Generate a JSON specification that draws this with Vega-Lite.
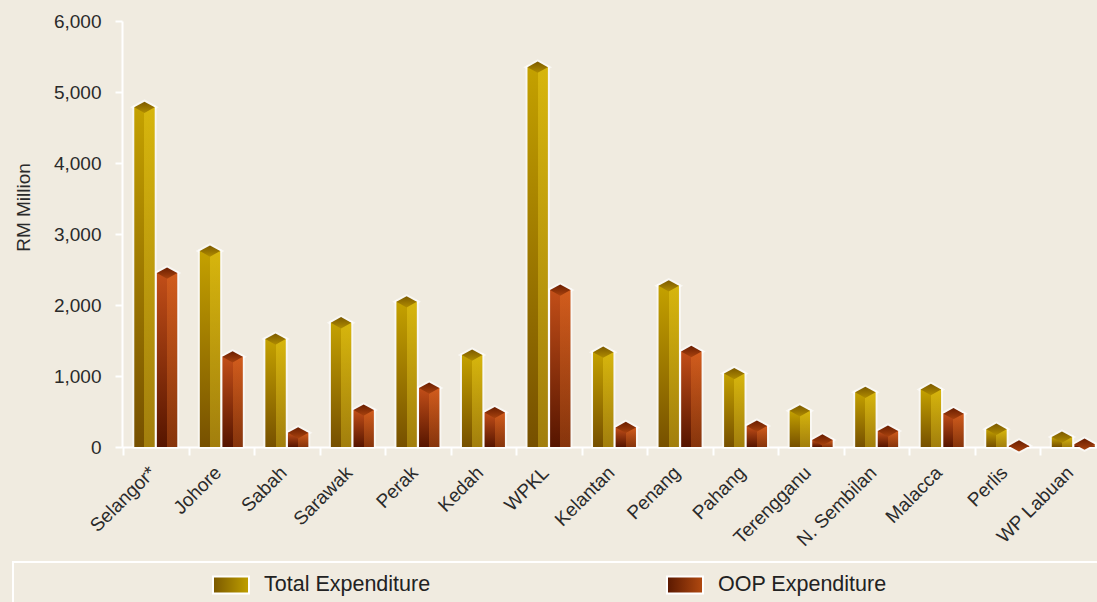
{
  "$schema": "https://vega.github.io/schema/vega-lite/v6.json",
  "background": "#f0ebe0",
  "padding": {"left": 12, "top": 12, "right": 0, "bottom": 0},
  "config": {
    "font": "Liberation Sans",
    "view": {"stroke": null}
  },
  "spacing": 11,
  "vconcat": [
    {
      "width": 1085,
      "height": 426,
      "data": {
        "values": [
          {"state": "Selangor*", "series": "Total Expenditure", "value": 4785},
          {"state": "Selangor*", "series": "OOP Expenditure", "value": 2450},
          {"state": "Johore", "series": "Total Expenditure", "value": 2760},
          {"state": "Johore", "series": "OOP Expenditure", "value": 1270},
          {"state": "Sabah", "series": "Total Expenditure", "value": 1520},
          {"state": "Sabah", "series": "OOP Expenditure", "value": 200},
          {"state": "Sarawak", "series": "Total Expenditure", "value": 1750},
          {"state": "Sarawak", "series": "OOP Expenditure", "value": 520},
          {"state": "Perak", "series": "Total Expenditure", "value": 2045},
          {"state": "Perak", "series": "OOP Expenditure", "value": 830},
          {"state": "Kedah", "series": "Total Expenditure", "value": 1295},
          {"state": "Kedah", "series": "OOP Expenditure", "value": 485},
          {"state": "WPKL", "series": "Total Expenditure", "value": 5350},
          {"state": "WPKL", "series": "OOP Expenditure", "value": 2210},
          {"state": "Kelantan", "series": "Total Expenditure", "value": 1335},
          {"state": "Kelantan", "series": "OOP Expenditure", "value": 275},
          {"state": "Penang", "series": "Total Expenditure", "value": 2270},
          {"state": "Penang", "series": "OOP Expenditure", "value": 1345},
          {"state": "Pahang", "series": "Total Expenditure", "value": 1035},
          {"state": "Pahang", "series": "OOP Expenditure", "value": 295},
          {"state": "Terengganu", "series": "Total Expenditure", "value": 510},
          {"state": "Terengganu", "series": "OOP Expenditure", "value": 100},
          {"state": "N. Sembilan", "series": "Total Expenditure", "value": 770},
          {"state": "N. Sembilan", "series": "OOP Expenditure", "value": 225},
          {"state": "Malacca", "series": "Total Expenditure", "value": 810},
          {"state": "Malacca", "series": "OOP Expenditure", "value": 470},
          {"state": "Perlis", "series": "Total Expenditure", "value": 250},
          {"state": "Perlis", "series": "OOP Expenditure", "value": 15},
          {"state": "WP Labuan", "series": "Total Expenditure", "value": 140},
          {"state": "WP Labuan", "series": "OOP Expenditure", "value": 40}
        ]
      },
      "encoding": {
        "x": {
          "field": "state", "type": "nominal", "sort": null,
          "scale": {"range": [109, 1094], "paddingInner": 0, "paddingOuter": 0.015},
          "axis": {
            "title": null, "labelAngle": -45, "labelFontSize": 19, "labelColor": "#2a2a2a",
            "labelPadding": 8, "labelOffset": -10, "domainColor": "#ffffff", "domainWidth": 2,
            "tickColor": "#ffffff", "tickWidth": 2, "tickSize": 8, "tickBand": "extent"
          }
        },
        "xOffset": {
          "field": "series", "type": "nominal",
          "sort": ["Total Expenditure", "OOP Expenditure"],
          "scale": {"paddingInner": 0.1, "paddingOuter": 0.5}
        },
        "y": {
          "field": "value", "type": "quantitative",
          "scale": {"domain": [0, 6000]},
          "axis": {
            "offset": -109,
            "values": [0, 1000, 2000, 3000, 4000, 5000, 6000], "format": ",d", "grid": false,
            "title": "RM Million", "titleFontSize": 19, "titleFontWeight": "normal", "titleColor": "#2a2a2a",
            "titleX": -93, "titleY": 186, "titleAngle": -90, "titleBaseline": "alphabetic", "titleAlign": "center",
            "labelFontSize": 19, "labelColor": "#2a2a2a", "labelPadding": 14,
            "domainColor": "#ffffff", "domainWidth": 2, "tickColor": "#ffffff", "tickWidth": 2, "tickSize": 7
          }
        }
      },
      "layer": [
        {"mark": {"type": "bar", "filled": false, "color": "#ffffff", "strokeWidth": 4, "strokeOpacity": 0.6, "strokeJoin": "round"}},
        {"mark": {"type": "point", "shape": "M-1,0L0,-0.55L1,0L0,0.55Z", "size": 420, "filled": false, "color": "#ffffff", "strokeWidth": 4, "strokeOpacity": 0.6, "opacity": 1}},
        {
          "transform": [{"filter": "datum.series === 'Total Expenditure'"}],
          "mark": {"type": "bar", "fill": {"gradient": "linear", "x1": 0, "y1": 1, "x2": 0, "y2": 0,
            "stops": [{"offset": 0, "color": "#765000"}, {"offset": 1, "color": "#c4a100"}]}}
        },
        {
          "transform": [{"filter": "datum.series === 'OOP Expenditure'"}],
          "mark": {"type": "bar", "fill": {"gradient": "linear", "x1": 0, "y1": 1, "x2": 0, "y2": 0,
            "stops": [{"offset": 0, "color": "#561500"}, {"offset": 1, "color": "#c24e18"}]}}
        },
        {
          "transform": [{"filter": "datum.series === 'Total Expenditure'"}],
          "mark": {"type": "bar", "fill": {"gradient": "linear", "x1": 0, "y1": 0, "x2": 1, "y2": 0,
            "stops": [
              {"offset": 0, "color": "rgba(255,225,40,0)"}, {"offset": 0.5, "color": "rgba(255,225,40,0)"},
              {"offset": 0.5, "color": "rgba(255,225,40,0.32)"}, {"offset": 1, "color": "rgba(255,225,40,0.32)"}]}}
        },
        {
          "transform": [{"filter": "datum.series === 'OOP Expenditure'"}],
          "mark": {"type": "bar", "fill": {"gradient": "linear", "x1": 0, "y1": 0, "x2": 1, "y2": 0,
            "stops": [
              {"offset": 0, "color": "rgba(245,125,40,0)"}, {"offset": 0.5, "color": "rgba(245,125,40,0)"},
              {"offset": 0.5, "color": "rgba(245,125,40,0.3)"}, {"offset": 1, "color": "rgba(245,125,40,0.3)"}]}}
        },
        {
          "transform": [{"filter": "datum.series === 'Total Expenditure'"}],
          "mark": {"type": "point", "shape": "M-1,0L0,-0.55L1,0L0,0.55Z", "size": 420, "filled": true, "opacity": 1, "strokeWidth": 0,
            "fill": {"gradient": "linear", "x1": 0, "y1": 0, "x2": 0, "y2": 1,
              "stops": [{"offset": 0, "color": "#7c5a00"}, {"offset": 1, "color": "#b08c00"}]}}
        },
        {
          "transform": [{"filter": "datum.series === 'OOP Expenditure'"}],
          "mark": {"type": "point", "shape": "M-1,0L0,-0.55L1,0L0,0.55Z", "size": 420, "filled": true, "opacity": 1, "strokeWidth": 0,
            "fill": {"gradient": "linear", "x1": 0, "y1": 0, "x2": 0, "y2": 1,
              "stops": [{"offset": 0, "color": "#6a1e00"}, {"offset": 1, "color": "#a8420e"}]}}
        }
      ]
    },
    {
      "width": 1090,
      "height": 46,
      "view": {"stroke": "#ffffff", "strokeWidth": 2, "fill": null},
      "data": {"values": [{"series": "Total Expenditure"}, {"series": "OOP Expenditure"}]},
      "encoding": {
        "x": {"field": "series", "type": "nominal", "sort": null,
              "scale": {"range": [-9, 899], "paddingInner": 0, "paddingOuter": 0}, "axis": null}
      },
      "layer": [
        {
          "transform": [{"filter": "datum.series === 'Total Expenditure'"}],
          "mark": {"type": "point", "shape": "M-1,-0.47H1V0.47H-1Z", "size": 1296, "filled": true, "opacity": 1,
            "stroke": "#ffffff", "strokeWidth": 2,
            "fill": {"gradient": "linear", "stops": [{"offset": 0, "color": "#7a5800"}, {"offset": 1, "color": "#c0a000"}]}}
        },
        {
          "transform": [{"filter": "datum.series === 'OOP Expenditure'"}],
          "mark": {"type": "point", "shape": "M-1,-0.47H1V0.47H-1Z", "size": 1296, "filled": true, "opacity": 1,
            "stroke": "#ffffff", "strokeWidth": 2,
            "fill": {"gradient": "linear", "stops": [{"offset": 0, "color": "#5a1800"}, {"offset": 1, "color": "#b24a10"}]}}
        },
        {
          "mark": {"type": "text", "align": "left", "baseline": "middle", "dx": 33, "fontSize": 21.5, "color": "#222222"},
          "encoding": {"text": {"field": "series"}}
        }
      ]
    }
  ]
}
